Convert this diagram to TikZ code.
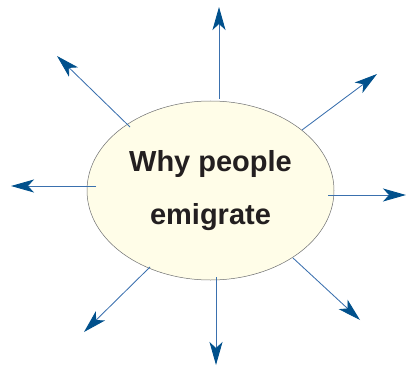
\documentclass[tikz,border=0pt]{standalone}
\usepackage{fontspec}
\setmainfont{Liberation Sans}
\usetikzlibrary{shapes.geometric,arrows.meta}
\definecolor{cream}{HTML}{FFFDE8}
\definecolor{rimgray}{HTML}{6D6E70}
\definecolor{textdark}{HTML}{231F20}
\definecolor{arrowblue}{HTML}{3A70AE}
\definecolor{tipblue}{HTML}{00508C}

\begin{document}
\begin{tikzpicture}[
    x=1pt, y=-1pt,
    >=Stealth,
    topic/.style={ellipse, draw=rimgray, fill=cream, line width=0.5pt, minimum width=247pt, minimum height=179pt, inner sep=0pt, align=center, text=textdark, font=\bfseries\fontsize{29}{53}\selectfont},
    reason/.style={draw=arrowblue, line width=0.85pt, -{Stealth[length=23pt, width=13pt, inset=6pt, color=tipblue]}}
]
\useasboundingbox (0, 0) rectangle (406, 366);

% Central topic
\node[topic] (why) at (210.5, 190.5) {Why people\\emigrate};

% Start points (just inside the rim) and arrow tips
\coordinate (n_in)  at (219, 99);   \coordinate (n_out)  at (219, 7);
\coordinate (nw_in) at (130, 127);  \coordinate (nw_out) at (57, 56);
\coordinate (ne_in) at (302, 130);  \coordinate (ne_out) at (377, 74);
\coordinate (w_in)  at (96, 186);   \coordinate (w_out)  at (11, 186);
\coordinate (e_in)  at (328, 195);  \coordinate (e_out)  at (406, 195);
\coordinate (sw_in) at (150, 267);  \coordinate (sw_out) at (84, 332);
\coordinate (s_in)  at (216, 277);  \coordinate (s_out)  at (216, 365);
\coordinate (se_in) at (293, 258);  \coordinate (se_out) at (360, 320);

% Radiating arrows
\draw[reason] (n_in) -- (n_out);
\draw[reason] (nw_in) -- (nw_out);
\draw[reason] (ne_in) -- (ne_out);
\draw[reason] (w_in) -- (w_out);
\draw[reason] (e_in) -- (e_out);
\draw[reason] (sw_in) -- (sw_out);
\draw[reason] (s_in) -- (s_out);
\draw[reason] (se_in) -- (se_out);

\end{tikzpicture}
\end{document}
